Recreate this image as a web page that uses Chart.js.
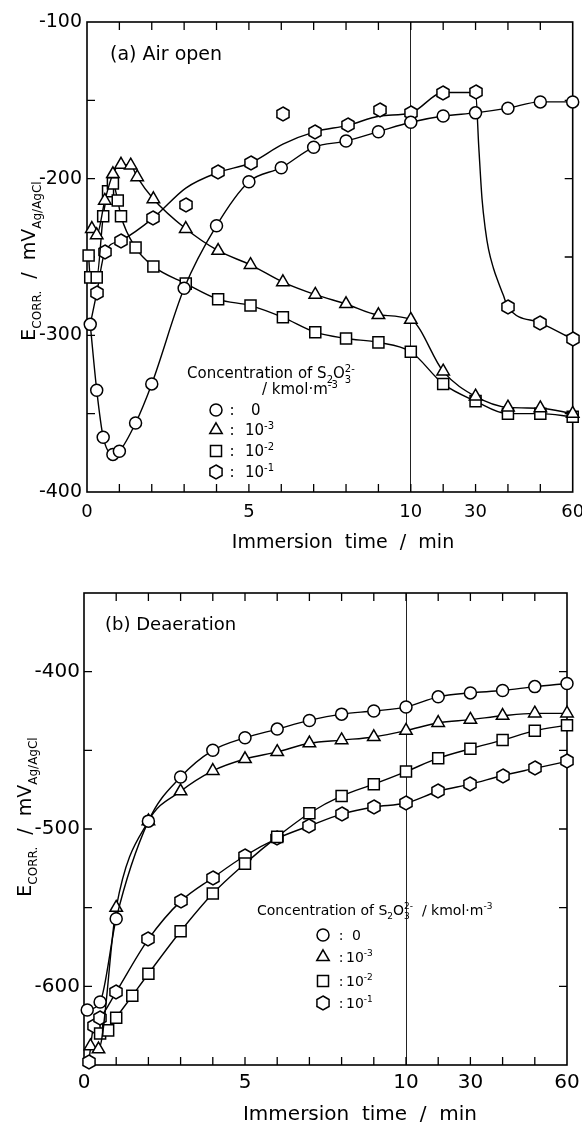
<!DOCTYPE html>
<html>
<head>
<meta charset="utf-8">
<title>Corrosion potential vs immersion time</title>
<script src="https://cdn.jsdelivr.net/npm/chart.js@4.4.1/dist/chart.umd.min.js"></script>
<style>
  html, body { margin:0; padding:0; background:#fff; }
  #page { position:relative; width:582px; height:1124px; overflow:hidden; background:#fff; }
  canvas { position:absolute; left:0; }
  #chartA { top:0; }
  #chartB { top:562px; }
</style>
</head>
<body>
<div id="page">
  <canvas id="chartA" width="582" height="562"></canvas>
  <canvas id="chartB" width="582" height="562"></canvas>
</div>
<script>
const FONT = '"DejaVu Sans", sans-serif';

// ---- axis definitions (time axis: 0-10 min linear, 10-60 min compressed 10x) ----
const xTickTimes  = [0,1,2,3,4,5,6,7,8,9,10,20,30,40,50,60];
const xLabelTimes = [0,5,10,30,60];
const xBreakTime  = 10;
const yTickStep   = 50;
const yLabelStep  = 100;

// ---- legend ----
const concBase   = ['0', '10', '10', '10'];
const concExp    = ['', '-3', '-2', '-1'];
const markerKind = ['circle', 'triangle', 'rect', 'hexagon'];

// ---- (a) Air open ----
const aT_0  = [0.1,0.3,0.5,0.8,1.0,1.5,2,3,4,5,6,7,8,9,10,20,30,40,50,60];
const aE_0  = [-293,-335,-365,-376,-374,-356,-331,-270,-230,-202,-193,-180,-176,-170,-164,-160,-158,-155,-151,-151];

const aT_m3 = [0.15,0.3,0.55,0.8,1.05,1.35,1.55,2.05,3.05,4.05,5.05,6.05,7.05,8,9,10,20,30,40,50,60];
const aE_m3 = [-232,-236,-214,-197,-191,-191.5,-199,-213,-232,-246,-255,-266,-274,-280,-287,-290,-323,-339,-346,-346.5,-350];

const aT_m2 = [0.05,0.1,0.3,0.5,0.65,0.8,0.95,1.05,1.5,2.05,3.05,4.05,5.05,6.05,7.05,8,9,10,20,30,40,50,60];
const aE_m2 = [-249,-263,-263,-224,-208,-203,-214,-224,-244,-256,-267,-277,-281,-288.5,-298,-302,-304.5,-310.5,-331,-342,-350,-350,-352];

const aT_m1 = [0.3,0.55,1.05,2.05,3.05,4.05,5.05,6.05,7.05,8.05,9.05,10.05,20,30,40,50,60];
const aE_m1 = [-273,-247,-239.5,-225,-217,-195.5,-190,-159,-170,-166,-156,-158,-145,-144.5,-282,-292,-302.5];
// fitted curve drawn through the 10^-1 points
const aCurveT_m1 = [0.1,0.3,0.55,1.05,2.05,3.05,4.05,5.05,6.05,7.05,8.05,9.05,10.05,20,30,31,32,33,34,35.5,37,38.5,40,50,60];
const aCurveE_m1 = [-293,-273,-247,-239.5,-225,-206,-196,-190,-178,-170,-166,-160,-158,-145,-145,-180,-213,-232,-245,-257,-266,-274,-282,-292,-302.5];

// ---- (b) Deaeration ----
const bT_0  = [0.1,0.5,1,2,3,4,5,6,7,8,9,10,20,30,40,50,60];
const bE_0  = [-615,-610,-557,-495,-467,-450,-442,-436.5,-431,-427,-425,-422.5,-416,-413.5,-412,-409.5,-407.5];

const bT_m3 = [0.2,0.45,1,2,3,4,5,6,7,8,9,10,20,30,40,50,60];
const bE_m3 = [-638,-640,-550,-495,-476,-463,-455.5,-451,-445.5,-443.5,-441.5,-437.5,-432.5,-430.5,-428,-426.5,-426.5];

const bT_m2 = [0.5,0.75,1,1.5,2,3,4,5,6,7,8,9,10,20,30,40,50,60];
const bE_m2 = [-630,-628,-620,-606,-592,-565,-541,-522,-505,-490,-479,-471.5,-463.5,-455,-449,-443.5,-437.5,-434];

const bT_m1 = [0.15,0.3,0.5,1,2,3,4,5,6,7,8,9,10,20,30,40,50,60];
const bE_m1 = [-648,-625,-620,-603.5,-570,-546,-531,-517,-506,-498,-490.5,-486,-483.5,-476,-471.5,-466,-461.5,-457];

// ---- helpers ----
function pos(t) { return t <= xBreakTime ? t : xBreakTime + (t - xBreakTime) / 10; }
function xy(ts, vs) { return ts.map((t, i) => ({ x: pos(t), y: vs[i] })); }

function hexPath(g, cx, cy, r) {
  g.beginPath();
  for (let i = 0; i < 6; i++) {
    const a = -Math.PI / 2 + i * Math.PI / 3;
    const px = cx + r * Math.cos(a), py = cy + r * Math.sin(a);
    if (i === 0) g.moveTo(px, py); else g.lineTo(px, py);
  }
  g.closePath();
}
function makeHexImage(r, lw) {
  const s = 2 * Math.ceil(r + lw);
  const c = document.createElement('canvas');
  c.width = s; c.height = s;
  const g = c.getContext('2d');
  hexPath(g, s / 2, s / 2, r);
  g.fillStyle = '#fff'; g.fill();
  g.lineWidth = lw; g.strokeStyle = '#000'; g.stroke();
  return c;
}
const HEX_IMG = makeHexImage(7, 1.5);
const RADIUS = { circle: 6, triangle: 7.2, rect: 7.8, hexagon: 7 };

function series(ts, vs, kind, extra) {
  return Object.assign({
    data: xy(ts, vs),
    showLine: true,
    borderColor: '#000',
    borderWidth: 1.4,
    fill: false,
    tension: 0.4,
    cubicInterpolationMode: 'monotone',
    pointStyle: kind === 'hexagon' ? HEX_IMG : kind,
    pointRadius: RADIUS[kind],
    pointHoverRadius: RADIUS[kind],
    pointBorderWidth: 1.5,
    pointBorderColor: '#000',
    pointBackgroundColor: '#fff',
    clip: false
  }, extra || {});
}

function drawMarker(ctx, kind, x, y) {
  ctx.save();
  if (kind === 'hexagon') {
    ctx.imageSmoothingEnabled = false;
    ctx.drawImage(HEX_IMG, Math.round(x - HEX_IMG.width / 2), Math.round(y - HEX_IMG.height / 2));
    ctx.restore(); return;
  }
  ctx.lineWidth = 1.5; ctx.strokeStyle = '#000'; ctx.fillStyle = '#fff';
  ctx.beginPath();
  if (kind === 'circle') ctx.arc(x, y, RADIUS.circle, 0, 2 * Math.PI);
  else if (kind === 'triangle') {
    const r = RADIUS.triangle;
    ctx.moveTo(x, y - r); ctx.lineTo(x + r * 0.866, y + r * 0.5); ctx.lineTo(x - r * 0.866, y + r * 0.5); ctx.closePath();
  } else {
    const h = RADIUS.rect * Math.SQRT1_2;
    ctx.rect(x - h, y - h, 2 * h, 2 * h);
  }
  ctx.fill(); ctx.stroke();
  ctx.restore();
}

// rich text: segments [text, kind('n'|'b' sub|'p' sup), noAdvance]
function segFont(k, size) { return (k === 'n' ? size : Math.round(size * 0.64)) + 'px ' + FONT; }
function richWidth(ctx, segs, size) {
  let w = 0;
  for (const s of segs) { ctx.font = segFont(s[1], size); if (!s[2]) w += ctx.measureText(s[0]).width; }
  return w;
}
function drawRich(ctx, x, y, segs, size, align) {
  const w = richWidth(ctx, segs, size);
  let cx = align === 'center' ? x - w / 2 : x;
  ctx.textAlign = 'left'; ctx.textBaseline = 'alphabetic'; ctx.fillStyle = '#000';
  for (const [t, k, noAdv] of segs) {
    ctx.font = segFont(k, size);
    const dy = k === 'b' ? size * 0.3 : (k === 'p' ? -size * 0.42 : 0);
    ctx.fillText(t, cx, y + dy);
    if (!noAdv) cx += ctx.measureText(t).width;
  }
}

const yTitleSegs = [['E', 'n'], ['CORR.', 'b'], ['  /  ', 'n'], ['mV', 'n'], ['Ag/AgCl', 'b']];
const xTitleSegs = [['Immersion  time  /  min', 'n']];
const chemSegs = [['Concentration of S', 'n'], ['2', 'b'], ['O', 'n'], ['3', 'b', true], ['2-', 'p']];
const unitSegs = [['/ kmol\u00b7m', 'n'], ['-3', 'p']];

function drawLegendRows(ctx, markerX, colonX, valueX, rowsY, size) {
  for (let i = 0; i < markerKind.length; i++) {
    const cy = rowsY[i];
    drawMarker(ctx, markerKind[i], markerX, cy);
    ctx.font = size + 'px ' + FONT; ctx.fillStyle = '#000';
    ctx.textAlign = 'center'; ctx.textBaseline = 'alphabetic';
    ctx.fillText(':', colonX, cy + size * 0.36);
    const segs = concExp[i] ? [[concBase[i], 'n'], [concExp[i], 'p']] : [[concBase[i], 'n']];
    drawRich(ctx, concExp[i] ? valueX : valueX + 6, cy + size * 0.36, segs, size, 'left');
  }
}

function decorPlugin(drawText) {
  return {
    id: 'decor',
    beforeDatasetsDraw(chart) {
      const { ctx, chartArea: a, scales: { x, y } } = chart;
      ctx.save();
      ctx.strokeStyle = '#000';
      ctx.lineWidth = 1.6;
      ctx.strokeRect(a.left, a.top, a.right - a.left, a.bottom - a.top);
      ctx.lineWidth = 1.3;
      ctx.beginPath();
      const L = 8;
      x.ticks.forEach(t => {
        const px = x.getPixelForValue(t.value);
        if (px <= a.left + 1 || px >= a.right - 1) return;
        ctx.moveTo(px, a.bottom); ctx.lineTo(px, a.bottom - L);
        ctx.moveTo(px, a.top); ctx.lineTo(px, a.top + L);
      });
      y.ticks.forEach(t => {
        const py = y.getPixelForValue(t.value);
        if (py <= a.top + 1 || py >= a.bottom - 1) return;
        ctx.moveTo(a.left, py); ctx.lineTo(a.left + L, py);
        ctx.moveTo(a.right, py); ctx.lineTo(a.right - L, py);
      });
      ctx.stroke();
      ctx.restore();
      // crisp (unblurred) image point markers
      ctx.imageSmoothingEnabled = false;
    },
    afterDraw(chart) {
      const ctx = chart.ctx;
      ctx.save();
      drawText(ctx, chart);
      ctx.restore();
    }
  };
}

function xLabel(v) {
  for (const t of xLabelTimes) if (Math.abs(pos(t) - v) < 1e-6) return String(t);
  return '';
}

function makeChart(canvas, cfg) {
  const W = canvas.width, H = canvas.height, A = cfg.area;
  return new Chart(canvas, {
    type: 'line',
    data: { datasets: cfg.datasets },
    options: {
      responsive: false,
      animation: false,
      devicePixelRatio: 1,
      events: [],
      layout: { padding: { left: 0, top: A.top, right: W - A.right, bottom: 0 } },
      plugins: { legend: { display: false }, tooltip: { enabled: false }, title: { display: false } },
      scales: {
        x: {
          type: 'linear', min: 0, max: pos(60),
          afterBuildTicks(s) { s.ticks = xTickTimes.map(t => ({ value: pos(t) })); },
          afterFit(s) { s.height = H - A.bottom; s.paddingLeft = 0; s.paddingRight = 0; s.paddingTop = 0; s.paddingBottom = 0; },
          ticks: {
            autoSkip: false, maxRotation: 0, minRotation: 0, padding: cfg.xPad, color: '#000',
            font: { family: FONT, size: cfg.xFont },
            callback: v => xLabel(v)
          },
          grid: {
            drawTicks: false, drawOnChartArea: true, lineWidth: 1,
            color: c => (c.tick && Math.abs(c.tick.value - pos(xBreakTime)) < 1e-6) ? '#222' : 'rgba(0,0,0,0)'
          },
          border: { display: false }
        },
        y: {
          type: 'linear', min: cfg.ymin, max: cfg.ymax,
          afterFit(s) { s.width = A.left; s.paddingTop = 0; s.paddingBottom = 0; s.paddingLeft = 0; s.paddingRight = 0; },
          ticks: {
            stepSize: yTickStep, padding: cfg.yPad, color: '#000',
            font: { family: FONT, size: cfg.yFont },
            callback: v => (Math.round(v) % yLabelStep === 0 ? String(v) : '')
          },
          grid: { display: false, drawTicks: false },
          border: { display: false }
        }
      }
    },
    plugins: [decorPlugin(cfg.text)]
  });
}

// ---- Panel (a) ----
makeChart(document.getElementById('chartA'), {
  area: { left: 87, top: 22, right: 574, bottom: 492 },
  ymin: -400, ymax: -100,
  xFont: 18, xPad: 10, yFont: 19, yPad: 5,
  datasets: [
    series(aT_0,  aE_0,  'circle'),
    series(aT_m3, aE_m3, 'triangle'),
    series(aT_m2, aE_m2, 'rect'),
    series(aT_m1, aE_m1, 'hexagon', { showLine: false }),
    series(aCurveT_m1, aCurveE_m1, 'hexagon', { pointRadius: 0, pointHoverRadius: 0 })
  ],
  text(ctx) {
    drawRich(ctx, 110, 60, [['(a) Air open', 'n']], 19, 'left');
    ctx.save(); ctx.translate(35, 261); ctx.rotate(-Math.PI / 2);
    drawRich(ctx, 0, 0, yTitleSegs, 19, 'center'); ctx.restore();
    drawRich(ctx, 343, 548, xTitleSegs, 19, 'center');
    drawRich(ctx, 187, 378, chemSegs, 15, 'left');
    drawRich(ctx, 262, 394, unitSegs, 15, 'left');
    drawLegendRows(ctx, 216, 232, 245, [410, 430, 451, 472], 15);
  }
});

// ---- Panel (b) ----
makeChart(document.getElementById('chartB'), {
  area: { left: 84, top: 31, right: 567, bottom: 503 },
  ymin: -650, ymax: -350,
  xFont: 20, xPad: 6, yFont: 20, yPad: 4,
  datasets: [
    series(bT_0,  bE_0,  'circle'),
    series(bT_m3, bE_m3, 'triangle'),
    series(bT_m2, bE_m2, 'rect'),
    series(bT_m1, bE_m1, 'hexagon')
  ],
  text(ctx) {
    drawRich(ctx, 105, 68, [['(b) Deaeration', 'n']], 18, 'left');
    ctx.save(); ctx.translate(31, 255); ctx.rotate(-Math.PI / 2);
    drawRich(ctx, 0, 0, yTitleSegs, 19, 'center'); ctx.restore();
    drawRich(ctx, 360, 558, xTitleSegs, 20, 'center');
    drawRich(ctx, 257, 353, chemSegs.concat([['  ', 'n']], unitSegs), 14, 'left');
    drawLegendRows(ctx, 323, 341, 346, [373, 395, 419, 441], 14);
  }
});
</script>
</body>
</html>
